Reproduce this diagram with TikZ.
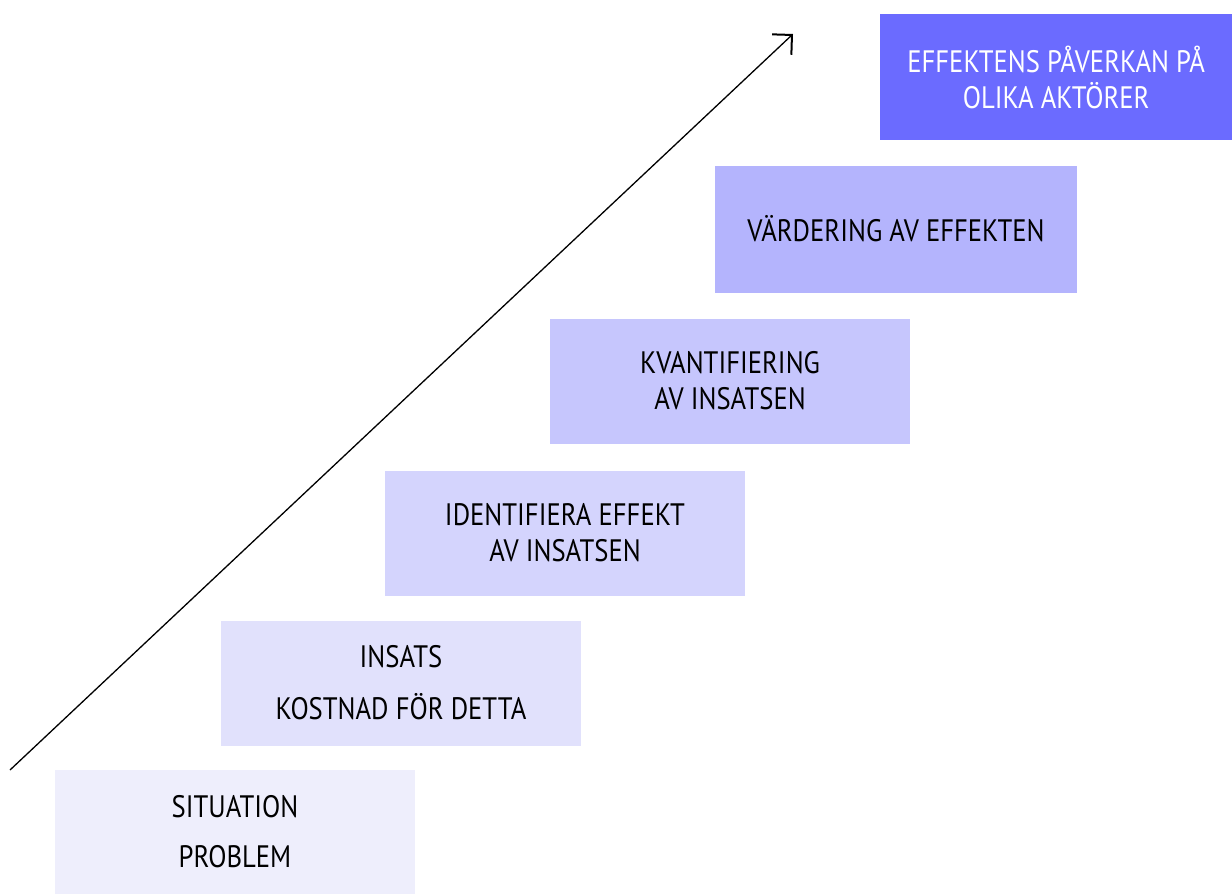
\documentclass[tikz,border=0pt]{standalone}
\usepackage{fontspec}
\setmainfont[FakeStretch=0.86]{PT Sans}
\usepackage{tikz}
\usetikzlibrary{arrows.meta, positioning}
\definecolor{mylav1}{HTML}{EEEEFC}
\definecolor{mylav2}{HTML}{E1E1FC}
\definecolor{mylav3}{HTML}{D4D4FD}
\definecolor{mylav4}{HTML}{C6C6FD}
\definecolor{mylav5}{HTML}{B4B4FD}
\definecolor{myviolet}{HTML}{6B6BFF}
\tikzset{
	stepbox/.style={minimum width=360pt, minimum height=125pt, align=center, inner sep=0pt,
		font=\fontsize{31}{36}\selectfont},
}

\begin{document}
\begin{tikzpicture}[x=1pt, y=-1pt]
				\useasboundingbox (0,0) rectangle (1232,894);
				\node[stepbox, fill=mylav1, minimum height=124pt] (situation) at (235,832) {SITUATION\\[14pt]PROBLEM};
				\node[stepbox, fill=mylav2] (insats) at (401,683) {INSATS\\[16pt]KOSTNAD FÖR DETTA};
				\node[stepbox, fill=mylav3] (identifiera) at (565,533) {IDENTIFIERA EFFEKT\\AV INSATSEN};
				\node[stepbox, fill=mylav4] (kvant) at (730,381) {KVANTIFIERING\\AV INSATSEN};
				\node[stepbox, fill=mylav5, minimum width=362pt, minimum height=127pt] (vardering) at (896,229) {VÄRDERING AV EFFEKTEN};
				\node[stepbox, fill=myviolet, text=white, minimum width=352pt, minimum height=126pt, anchor=north west] (paverkan) at (880,14) {EFFEKTENS PÅVERKAN PÅ\\OLIKA AKTÖRER};
				\coordinate (start) at (10,770);
				\coordinate (tip) at (793,34);
				\draw[line width=1.3pt, -{Straight Barb[length=14pt, width=28pt, line width=2pt]}] (start) -- (tip);
			\end{tikzpicture}
\end{document}
